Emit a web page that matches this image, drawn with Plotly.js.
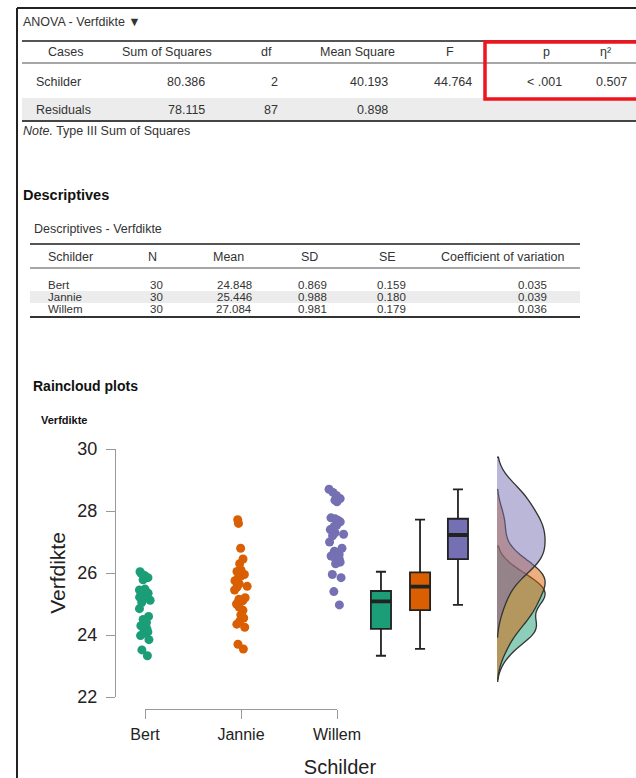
<!DOCTYPE html>
<html><head><meta charset="utf-8">
<script src="https://cdn.plot.ly/plotly-3.0.1.min.js"></script>
<style>html,body{margin:0;padding:0;background:#fff;}#chart{width:636px;height:778px;}</style>
</head><body><div id="chart"></div>
<script>
// ---------- data ----------
const anovaTitle = 'ANOVA - Verfdikte ▼';
const anovaHeaders = ['Cases', 'Sum of Squares', 'df', 'Mean Square', 'F', 'p', 'η²'];
const anovaCases = ['Schilder', 'Residuals'];
const anovaSS = ['80.386', '78.115'];
const anovaDf = ['2', '87'];
const anovaMS = ['40.193', '0.898'];
const anovaF = ['44.764', ''];
const anovaP = ['< .001', ''];
const anovaEta = ['0.507', ''];
const anovaNote = '<i>Note.</i> Type III Sum of Squares';

const descTitle = 'Descriptives';
const descSubTitle = 'Descriptives - Verfdikte';
const descHeaders = ['Schilder', 'N', 'Mean', 'SD', 'SE', 'Coefficient of variation'];
const groups = ['Bert', 'Jannie', 'Willem'];
const descN = ['30', '30', '30'];
const descMean = ['24.848', '25.446', '27.084'];
const descSD = ['0.869', '0.988', '0.981'];
const descSE = ['0.159', '0.180', '0.179'];
const descCV = ['0.035', '0.039', '0.036'];

const plotSection = 'Raincloud plots';
const plotTitle = 'Verfdikte';
const yTitle = 'Verfdikte';
const xTitle = 'Schilder';
const yTicks = [22, 24, 26, 28, 30];

const bert = [23.33, 23.52, 23.85, 23.98, 24.05, 24.1, 24.15, 24.2, 24.25, 24.3, 24.4, 24.5, 24.6, 24.85, 25.05,
              25.12, 25.18, 25.22, 25.25, 25.3, 25.35, 25.4, 25.42, 25.45, 25.48, 25.78, 25.85, 25.92, 25.98, 26.04];
const jannie = [23.55, 23.7, 24.25, 24.35, 24.45, 24.55, 24.65, 24.8, 24.9, 25.0, 25.1, 25.15, 25.2, 25.45, 25.55,
                25.57, 25.65, 25.75, 25.85, 25.9, 25.95, 26.0, 26.02, 26.05, 26.1, 26.3, 26.45, 26.8, 27.6, 27.72];
const willem = [24.97, 25.4, 25.85, 25.95, 26.3, 26.35, 26.4, 26.45, 26.5, 26.55, 26.6, 26.7, 26.8, 27.0, 27.2,
                27.25, 27.3, 27.4, 27.5, 27.55, 27.65, 27.7, 27.75, 27.78, 28.3, 28.35, 28.4, 28.5, 28.6, 28.7];

// ---------- layout constants ----------
const W = 636, H = 778;
const FONT = '"Liberation Sans", Arial, sans-serif';
const colors = ['#1b9e77', '#d95f02', '#7570b3'];
const fills = ['rgba(27,158,119,0.5)', 'rgba(217,95,2,0.5)', 'rgba(117,112,179,0.5)'];
const groupVals = [bert, jannie, willem];
const dotPos = [1, 2, 3];
const boxPos = [3.458, 3.865, 4.26];
const violinPos = 4.667;

const X = v => v / W, Y = v => 1 - v / H;
const ann = [];
function T(text, x, y, anchor, size, color, bold) {
  ann.push({text: bold ? '<b>' + text + '</b>' : text, x: X(x), y: Y(y), xref: 'paper', yref: 'paper',
    xanchor: anchor, yanchor: 'middle', showarrow: false, borderpad: 0,
    font: {family: FONT, size: size, color: color || '#333'}});
}
const shapes = [];
function L(x0, y0, x1, y1, color, w) {
  shapes.push({type: 'line', xref: 'paper', yref: 'paper', x0: X(x0), y0: Y(y0), x1: X(x1), y1: Y(y1),
    line: {color: color, width: w}});
}
function R(x0, y0, x1, y1, fill, lineColor, w) {
  shapes.push({type: 'rect', xref: 'paper', yref: 'paper', x0: X(x0), y0: Y(y0), x1: X(x1), y1: Y(y1),
    fillcolor: fill, layer: 'below', line: {color: lineColor || 'rgba(0,0,0,0)', width: w || 0}});
}

// frame
L(17, 8, 17, 778, '#222', 2);
L(17, 8, 636, 8, '#222', 2);

// ANOVA table
T(anovaTitle, 22, 22, 'left', 12.5, '#333');
R(22, 98, 636, 121, '#ececec');
L(22, 41, 636, 41, '#555', 2);
L(22, 63, 636, 63, '#888', 1.5);
L(22, 121, 636, 121, '#444', 2);
const anovaHeadX = [65, 167, 266, 357, 450, 546, 605];
anovaHeaders.forEach((h, j) => T(h, anovaHeadX[j], 52, 'center', 12.5));
const anovaCols = [anovaSS, anovaDf, anovaMS, anovaF, anovaP, anovaEta];
const anovaRight = [206, 279, 389, 473, 563, 628];
const anovaRowY = [82, 110];
anovaCases.forEach((c, i) => {
  T(c, 35, anovaRowY[i], 'left', 12.5);
  anovaCols.forEach((col, j) => { if (col[i]) T(col[i], anovaRight[j], anovaRowY[i], 'right', 12.5); });
});
T(anovaNote, 22, 131, 'left', 12.5);
shapes.push({type: 'rect', xref: 'paper', yref: 'paper', x0: X(485), y0: Y(42), x1: X(642), y1: Y(99),
  line: {color: '#f0141e', width: 3.5}});

// Descriptives table
T(descTitle, 22, 195, 'left', 14.5, '#111', true);
T(descSubTitle, 33, 229, 'left', 12.5);
R(30, 291, 580, 303, '#ececec');
L(30, 244, 580, 244, '#555', 2);
L(30, 268, 580, 268, '#888', 1.5);
L(30, 317, 580, 317, '#333', 2);
const descHeadX = [70, 152, 229, 309, 387, 502];
descHeaders.forEach((h, j) => T(h, descHeadX[j], 257, 'center', 12.5));
const descCols = [descN, descMean, descSD, descSE, descCV];
const descRight = [164, 253, 328, 407, 548];
const descRowY = [285, 297, 309];
groups.forEach((g, i) => {
  T(g, 47, descRowY[i], 'left', 11.5);
  descCols.forEach((col, j) => T(col[i], descRight[j], descRowY[i], 'right', 11.5));
});

// plot headings
T(plotSection, 32, 386, 'left', 14, '#111', true);
T(plotTitle, 40, 420, 'left', 11, '#111', true);

// ---------- traces ----------
function median(a) {
  const s = a.slice().sort((p, q) => p - q), n = s.length;
  return n % 2 ? s[(n - 1) / 2] : (s[n / 2 - 1] + s[n / 2]) / 2;
}
const traces = [];
traces.push({type: 'scatter', x: [], y: [], xaxis: 'x', yaxis: 'y', showlegend: false, hoverinfo: 'skip'});

// rain: jittered points
groupVals.forEach((vals, i) => traces.push({
  type: 'box', name: groups[i], y: vals, x0: dotPos[i], xaxis: 'x2', yaxis: 'y',
  width: 0.18, boxpoints: 'all', jitter: 1, pointpos: 0, whiskerwidth: 0,
  fillcolor: 'rgba(0,0,0,0)', line: {color: 'rgba(0,0,0,0)', width: 0},
  marker: {color: colors[i], size: 9, opacity: 1}, hoverinfo: 'y'
}));

// boxes
groupVals.forEach((vals, i) => traces.push({
  type: 'box', name: groups[i], y: vals, x0: boxPos[i], xaxis: 'x2', yaxis: 'y',
  width: 0.21, boxpoints: false, quartilemethod: 'linear', whiskerwidth: 0.5,
  fillcolor: colors[i], line: {color: '#222', width: 1.8}, hoverinfo: 'y'
}));
// thick median bars
groupVals.forEach((vals, i) => traces.push({
  type: 'box', name: groups[i] + ' median', y: [median(vals)], x0: boxPos[i], xaxis: 'x2', yaxis: 'y',
  width: 0.21, boxpoints: false, whiskerwidth: 0,
  fillcolor: 'rgba(0,0,0,0)', line: {color: '#222', width: 3.8}, hoverinfo: 'skip'
}));

// clouds
groupVals.forEach((vals, i) => traces.push({
  type: 'violin', name: groups[i], y: vals, x0: violinPos, xaxis: 'x2', yaxis: 'y',
  side: 'positive', width: 1.0, points: false, box: {visible: false}, meanline: {visible: false},
  scalegroup: 'rain', scalemode: 'count', spanmode: 'soft',
  fillcolor: fills[i], line: {color: '#333', width: 1.3}, hoverinfo: 'skip'
}));

const layout = {
  width: W, height: H, margin: {l: 0, r: 0, t: 0, b: 0},
  paper_bgcolor: '#fff', plot_bgcolor: 'rgba(0,0,0,0)', showlegend: false,
  font: {family: FONT, color: '#333'},
  boxmode: 'overlay', violinmode: 'overlay',
  xaxis: {domain: [145 / W, 337 / W], range: [1, 3], anchor: 'free', position: 1 - 709 / H,
    showline: true, linecolor: '#999', linewidth: 1, ticks: 'outside', ticklen: 9, tickcolor: '#999',
    tickvals: dotPos, ticktext: groups, tickfont: {size: 16, color: '#222'}, ticklabelstandoff: 2,
    showgrid: false, zeroline: false, fixedrange: true},
  xaxis2: {domain: [100 / W, 580 / W], range: [1 - 45 / 96, 1 + 435 / 96], anchor: 'y', type: 'linear',
    showline: false, showgrid: false, zeroline: false, ticks: '', showticklabels: false, fixedrange: true,
    title: {text: xTitle, font: {size: 20, color: '#222'}, standoff: 62}},
  yaxis: {domain: [1 - 697 / H, 1 - 449 / H], range: [22, 30], anchor: 'free', position: 115 / W,
    showline: true, linecolor: '#999', linewidth: 1, ticks: 'outside', ticklen: 9, tickcolor: '#999',
    tickvals: yTicks, tickfont: {size: 18, color: '#222'}, ticklabelstandoff: 5,
    showgrid: false, zeroline: false, fixedrange: true,
    title: {text: yTitle, font: {size: 21, color: '#222'}, standoff: 5}},
  annotations: ann, shapes: shapes
};
Plotly.newPlot('chart', traces, layout, {staticPlot: true, displayModeBar: false});
</script></body></html>
